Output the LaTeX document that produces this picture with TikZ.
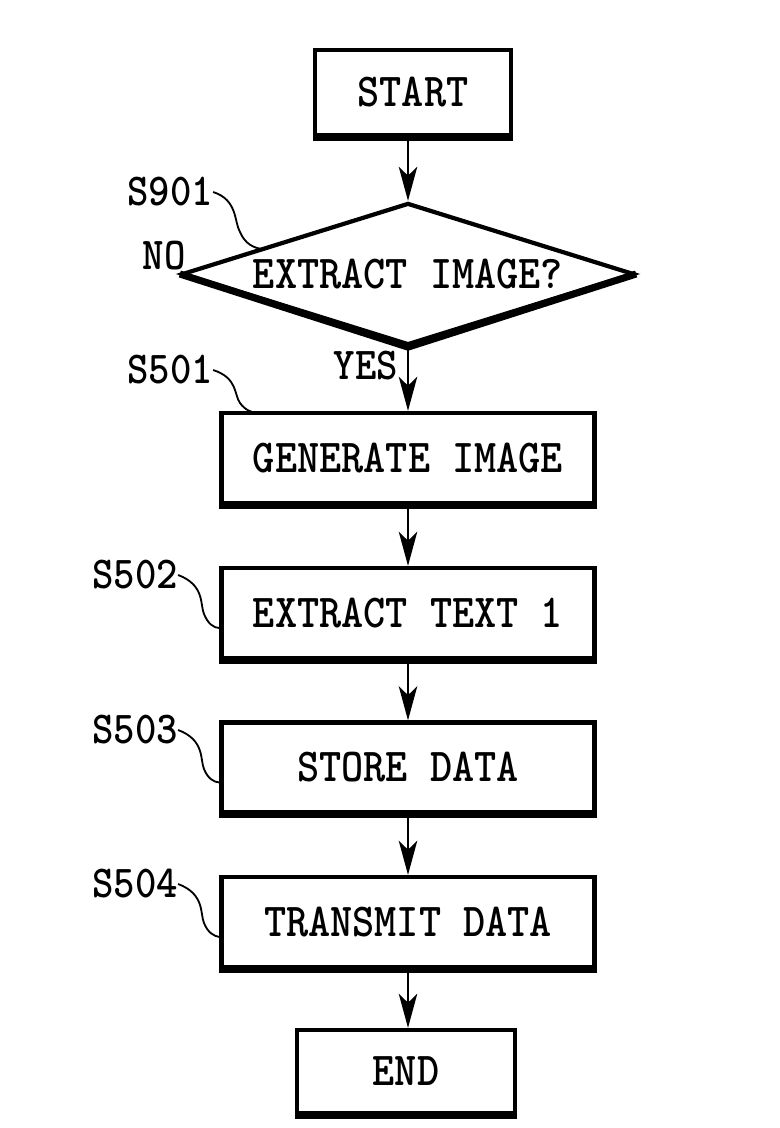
\documentclass[tikz,border=0pt]{standalone}
\usepackage{fontspec}
\usetikzlibrary{shapes.geometric,arrows.meta}
\newcommand{\tallt}[1]{\scalebox{1}[1.12]{#1}}
\tikzset{
  stepbox/.style={draw, line width=3pt, minimum width=9.325cm, minimum height=2.25cm, inner sep=0pt,
    font=\ttfamily\bfseries\fontsize{30}{30}\selectfont},
  flow/.style={line width=1.8pt, -{Stealth[length=8.5mm,width=4.6mm,inset=2.2mm]}},
  lead/.style={line width=1.3pt},
  lbl/.style={inner sep=0pt, font=\ttfamily\bfseries\fontsize{29}{29}\selectfont},
}
\begin{document}
\begin{tikzpicture}[x=0.025cm, y=-0.025cm]
    \useasboundingbox (0,0) rectangle (780,1128);
    % boxes
    \node[stepbox, minimum width=4.9cm, minimum height=2.125cm] (start) at (413,92.5) {\tallt{START}};
    \node[stepbox, diamond, aspect=3.18, minimum width=11.3cm, minimum height=3.55cm] (s901) at (408,274) {\tallt{EXTRACT IMAGE?}};
    \node[stepbox] (s501) at (408,458) {\tallt{GENERATE IMAGE}};
    \node[stepbox] (s502) at (408,613) {\tallt{EXTRACT TEXT 1}};
    \node[stepbox] (s503) at (408,767.5) {\tallt{STORE DATA}};
    \node[stepbox] (s504) at (408,922) {\tallt{TRANSMIT DATA}};
    \node[stepbox, minimum width=5.45cm, minimum height=2.075cm] (fin) at (406,1071.5) {\tallt{END}};
    % heavy lower edges
    \foreach \n in {start,s501,s502,s503,s504,fin}
        \draw[line width=5pt] (\n.south west) -- (\n.south east);
    \draw[line width=5pt, line join=bevel] (s901.west) -- (s901.south) -- (s901.east);
    % arrows
    \draw[flow] (s901.north |- start.south) -- (s901.north);
    \draw[flow] (s901.south) -- (s501.north);
    \draw[flow] (s501) -- (s502);
    \draw[flow] (s502) -- (s503);
    \draw[flow] (s503) -- (s504);
    \draw[flow] (s504.south) -- (s504.south |- fin.north);
    \node[lbl] (yes) at (366,366) {\tallt{YES}};
    \node[lbl] (no) at (164,256) {\tallt{NO}};
    % step labels
    \node[lbl] (l901) at (170,192) {\tallt{S901}};
    \node[lbl] (l501) at (170,370) {\tallt{S501}};
    \node[lbl] (l502) at (135,575) {\tallt{S502}};
    \node[lbl] (l503) at (135,730) {\tallt{S503}};
    \node[lbl] (l504) at (135,884) {\tallt{S504}};
    \coordinate (e901) at (262,249);
    \coordinate (e501) at (258,413);
    \draw[lead] (l901.east) .. controls (238,200) and (234,222) .. (240,232) .. controls (245,244) and (254,248) .. (e901);
    \draw[lead] (l501.east) .. controls (238,378) and (234,395) .. (240,403) .. controls (245,410) and (252,413) .. (e501);
    \draw[lead] (l502.east) .. controls (205,585) and (200,605) .. (204,614) .. controls (208,624) and (214,628) .. ([yshift=-0.375cm]s502.west);
    \draw[lead] (l503.east) .. controls (205,740) and (200,760) .. (204,769) .. controls (208,779) and (214,782) .. ([yshift=-0.375cm]s503.west);
    \draw[lead] (l504.east) .. controls (205,894) and (200,914) .. (204,923) .. controls (208,933) and (214,936) .. ([yshift=-0.375cm]s504.west);
\end{tikzpicture}
\end{document}
